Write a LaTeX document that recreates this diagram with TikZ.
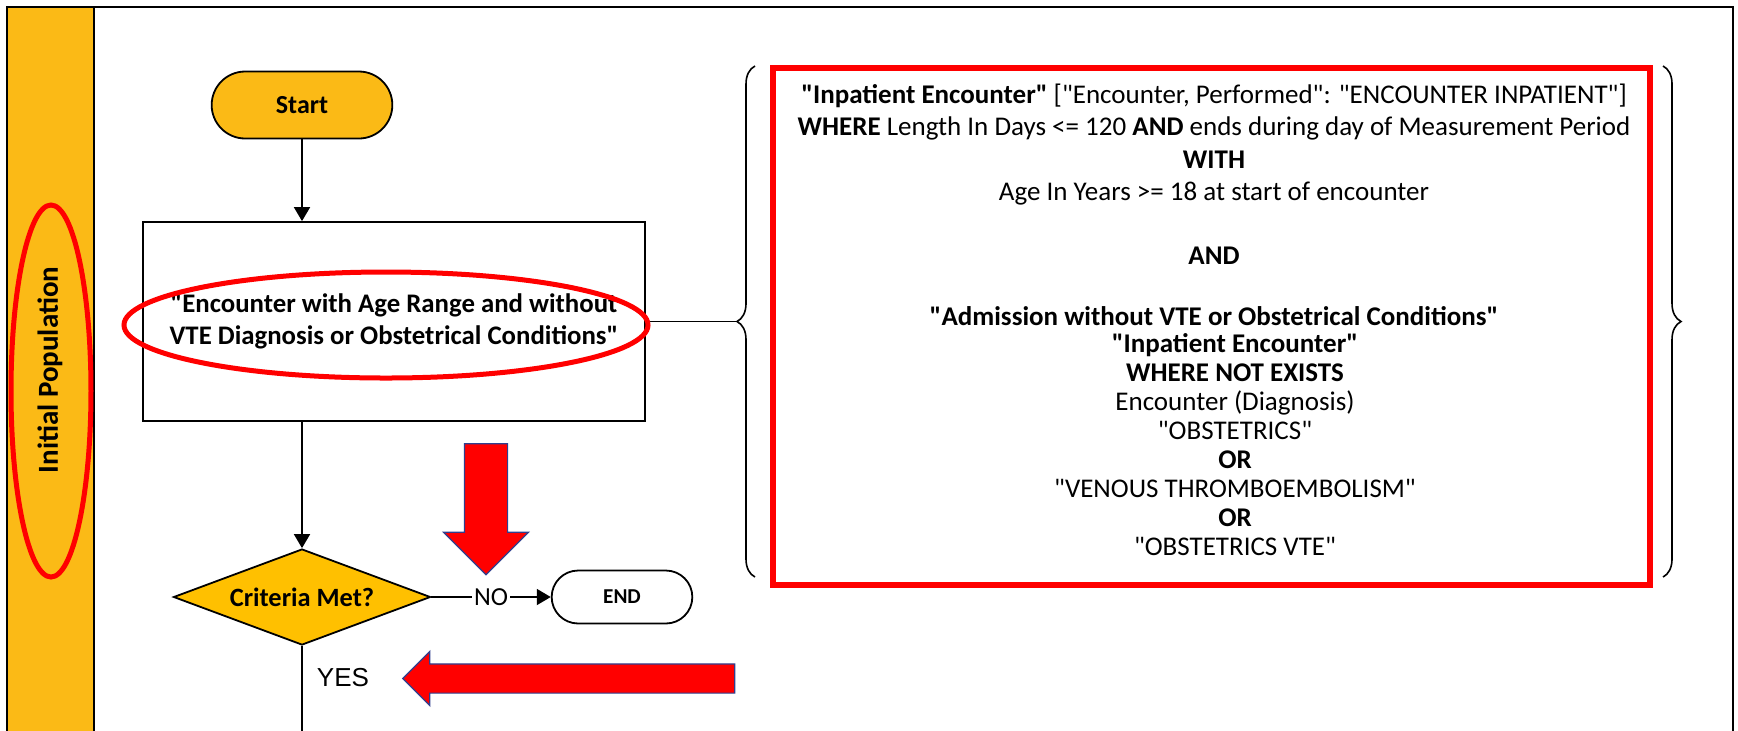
\documentclass[tikz,border=0pt]{standalone}
\usepackage{fontspec}
\setmainfont{Carlito}[Ligatures=TeXOff]
\newfontfamily\arialfont{Liberation Sans}
\usetikzlibrary{arrows.meta, shapes.geometric, shapes.misc, shapes.arrows, decorations.pathreplacing}
\definecolor{laneyellow}{HTML}{FBBA16}
\definecolor{diayellow}{HTML}{FFC000}
\definecolor{arrowedge}{HTML}{2F3F8F}

\begin{document}
\begin{tikzpicture}[x=0.5pt, y=-0.5pt,
    terminal/.style={draw, rounded rectangle, line width=0.9pt, font=\bfseries\fontsize{13}{15}\selectfont},
    process/.style={draw, rectangle, line width=0.9pt, align=center, minimum width=250.75pt, minimum height=99.5pt, font=\bfseries\fontsize{13.4}{16}\selectfont},
    decision/.style={draw, diamond, fill=diayellow, line width=0.9pt, aspect=2.68, inner sep=0pt, minimum width=128.5pt, minimum height=48pt, font=\bfseries\fontsize{13.2}{15}\selectfont},
    query/.style={align=center, anchor=base, font=\fontsize{13.5}{14.5}\selectfont},
    flow/.style={-{Triangle[length=7pt, width=8pt]}, line width=0.9pt},
    ring/.style={draw=red, line width=2.5pt},
    blockarrow/.style={single arrow, fill=red, draw=arrowedge, line width=0.6pt, single arrow tip angle=90},
    brace/.style={decorate, decoration={brace, amplitude=9pt}, line width=0.8pt}
]
\useasboundingbox (0,0) rectangle (1738,730);

\fill[laneyellow] (7,7) rectangle (94,740);
\draw[line width=1.2pt] (7,740) -- (7,7) -- (1733,7) -- (1733,740);
\draw[line width=1.2pt] (94,7) -- (94,740);
\node[rotate=90, font=\bfseries\fontsize{14.5}{16}\selectfont] (lane) at (50,370) {Initial Population};

\node[terminal, fill=laneyellow, minimum width=97pt, minimum height=33.5pt] (start) at (302,105) {Start};
\node[process] (enc) at (394,321.5) {"Encounter with Age Range and without\\VTE Diagnosis or Obstetrical Conditions"};
\node[decision] (crit) at (302,597) {Criteria Met?};
\node[terminal, font=\bfseries\fontsize{10.6}{12}\selectfont, minimum width=77pt, minimum height=26.5pt] (end) at (622,597) {END};
\node[font=\arialfont\fontsize{13}{15}\selectfont] (yes) at (343,678) {YES};
\coordinate (out) at (302,740);

\draw[flow] (start.south) -- (start.south |- enc.north);
\draw[flow] (enc.south -| crit.north) -- (crit.north);
\draw[flow] (crit.east) -- node[fill=white, inner sep=1pt, font=\fontsize{13}{15}\selectfont] (no) {NO} (end.west);
\draw[line width=0.9pt] (crit.south) -- (out);

\coordinate (btip) at (737,321.5);
\draw[line width=0.9pt] (enc.east) -- (btip);
\draw[brace] (755,577) -- (755,66);
\draw[brace] (1663,66) -- (1663,577);

\draw[red, line width=3pt] (773,68) rectangle (1650,585);
\node[query] (inpat) at (1214,325) {\textbf{"Inpatient Encounter"} ["Encounter, Performed": "ENCOUNTER INPATIENT"]\\[1.75pt]
\textbf{WHERE} Length In Days <= 120 \textbf{AND} ends during day of Measurement Period\\[1.75pt]
\textbf{WITH}\\[1.5pt]
Age In Years >= 18 at start of encounter\\[17.5pt]
\textbf{AND}\\[16pt]
\textbf{"Admission without VTE or Obstetrical Conditions"}};
\node[query] (admit) at (1235,555) {\textbf{"Inpatient Encounter"}\\
\textbf{WHERE NOT EXISTS}\\
Encounter (Diagnosis)\\
"OBSTETRICS"\\
\textbf{OR}\\
"VENOUS THROMBOEMBOLISM"\\
\textbf{OR}\\
"OBSTETRICS VTE"};

\node[blockarrow, shape border rotate=270, inner sep=10.5pt, minimum width=42pt, minimum height=65.5pt, single arrow head extend=10.5pt] (downarr) at (486,498.5) {};
\node[blockarrow, shape border rotate=180, inner sep=7pt, minimum width=26.5pt, minimum height=166pt, single arrow head extend=6.25pt] (leftarr) at (576,678.5) {};

\draw[ring] (386,325) ellipse [x radius=131pt, y radius=26.5pt];
\draw[ring] (51,391) ellipse [x radius=20pt, y radius=93pt];
\end{tikzpicture}
\end{document}
